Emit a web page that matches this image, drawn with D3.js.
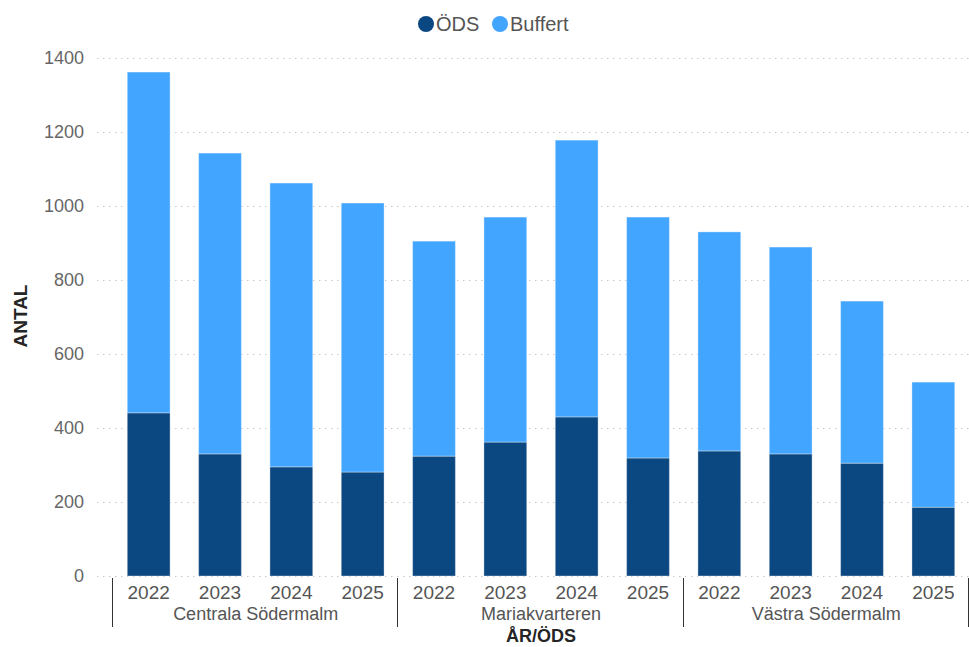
<!DOCTYPE html>
<html>
<head>
<meta charset="utf-8">
<script src="https://cdn.jsdelivr.net/npm/d3@7"></script>
<style>
  body { margin: 0; background: #fff; }
  svg { font-family: "Liberation Sans", Arial, sans-serif; }
</style>
</head>
<body>
<svg id="chart" width="969" height="647"></svg>
<script>
// data
const areas = ['Centrala Södermalm', 'Mariakvarteren', 'Västra Södermalm'];
const years = ['2022', '2023', '2024', '2025'];
const ods = [441, 330, 295, 281, 324, 362, 430, 319, 338, 330, 305, 186];
const buffert = [921, 813, 767, 727, 581, 608, 748, 651, 592, 559, 438, 338];
const yTicks = [0, 200, 400, 600, 800, 1000, 1200, 1400];
const seriesNames = ['ÖDS', 'Buffert'];
const colors = ['#0b4780', '#42a5ff'];

const svg = d3.select('#chart');
const plotLeft = 113, plotRight = 969, plotTop = 58, plotBottom = 576;

let rows = [];
areas.forEach((a, ai) => {
  years.forEach((yr, yi) => {
    let i = ai * years.length + yi;
    rows.push({ key: a + '|' + yr, area: a, year: yr, 'ÖDS': ods[i], 'Buffert': buffert[i] });
  });
});

const x = d3.scaleBand()
  .domain(rows.map(d => d.key))
  .range([plotLeft, plotRight])
  .paddingInner(0.4)
  .paddingOuter(0.2);

const y = d3.scaleLinear()
  .domain([0, 1400])
  .range([plotBottom, plotTop]);

// grid
let grid = svg.append('g')
grid.selectAll('line')
  .data(yTicks)
  .enter().append('line')
  .attr('x1', 97)
  .attr('x2', 969)
  .attr('y1', d => y(d) + 0.5)
  .attr('y2', d => y(d) + 0.5)
  .style('stroke', '#c8c8c8')
  .style('stroke-width', 1)
  .style('stroke-dasharray', '1.5,4.5')

// y axis labels
let yAxis = svg.append('g')
  .attr('transform', 'translate(84,0)')
  .call(d3.axisLeft(y).tickValues(yTicks).tickSize(0).tickPadding(0).tickFormat(d3.format('d')))
yAxis.select('.domain').remove()
yAxis.selectAll('text')
  .style('font-size', '18px')
  .style('fill', '#666')
  .style('font-family', '"Liberation Sans", Arial, sans-serif')

// bars
const stack = d3.stack().keys(seriesNames)(rows);
svg.append('g').selectAll('g')
  .data(stack)
  .enter().append('g')
  .attr('fill', (d, i) => colors[i])
  .selectAll('rect')
  .data(d => d)
  .enter().append('rect')
  .attr('x', d => x(d.data.key))
  .attr('width', x.bandwidth())
  .attr('y', d => y(d[1]))
  .attr('height', d => y(d[0]) - y(d[1]))
  .style('stroke', '#ffffff')
  .style('stroke-opacity', 0.35)
  .style('stroke-width', 1)

// x axis: years
svg.append('g').selectAll('text')
  .data(rows)
  .enter().append('text')
  .attr('x', d => x(d.key) + x.bandwidth() / 2)
  .attr('y', 599)
  .attr('text-anchor', 'middle')
  .style('font-size', '19px')
  .style('fill', '#555')
  .text(d => d.year)

// group labels and separators
const groupW = (plotRight - plotLeft) / areas.length;
svg.append('g').selectAll('text')
  .data(areas)
  .enter().append('text')
  .attr('x', (d, i) => plotLeft + groupW * i + groupW / 2)
  .attr('y', 620)
  .attr('text-anchor', 'middle')
  .style('font-size', '18px')
  .style('fill', '#555')
  .text(d => d)

svg.append('g').selectAll('line')
  .data(d3.range(areas.length + 1))
  .enter().append('line')
  .attr('x1', i => Math.round(plotLeft + groupW * i) - 0.5)
  .attr('x2', i => Math.round(plotLeft + groupW * i) - 0.5)
  .attr('y1', 578)
  .attr('y2', 627)
  .style('stroke', '#333')
  .style('stroke-width', 1)

// axis titles
svg.append('text')
  .attr('x', 541)
  .attr('y', 642)
  .attr('text-anchor', 'middle')
  .style('font-size', '18px')
  .style('font-weight', 'bold')
  .style('fill', '#252525')
  .text('ÅR/ÖDS')

svg.append('text')
  .attr('transform', 'translate(27,316) rotate(-90)')
  .attr('text-anchor', 'middle')
  .style('font-size', '19px')
  .style('font-weight', 'bold')
  .style('fill', '#252525')
  .text('ANTAL')

// legend
const legendX = [426, 500];
let legend = svg.append('g').selectAll('g')
  .data(seriesNames)
  .enter().append('g')
  .attr('transform', (d, i) => 'translate(' + legendX[i] + ',24)')
legend.append('circle')
  .attr('r', 8)
  .attr('fill', (d, i) => colors[i])
legend.append('text')
  .attr('x', 10)
  .attr('y', 7)
  .style('font-size', '20px')
  .style('fill', '#555')
  .text(d => d)
</script>
</body>
</html>
